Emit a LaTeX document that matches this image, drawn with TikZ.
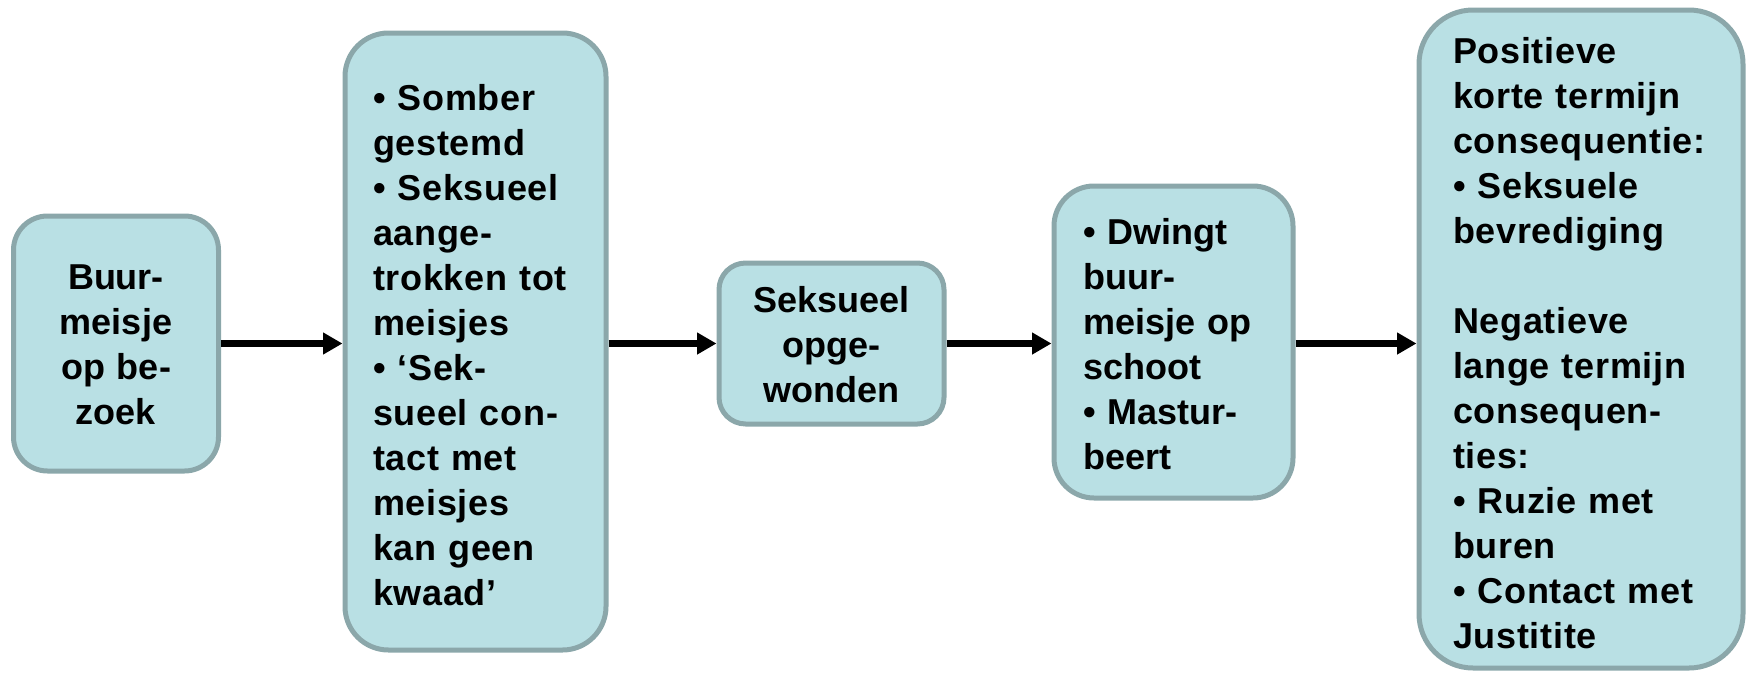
\documentclass[tikz,border=0pt]{standalone}
\usepackage{fontspec}
\setmainfont{Liberation Sans}
\usetikzlibrary{arrows.meta}
\definecolor{boxfill}{RGB}{185,224,228}
\definecolor{boxline}{RGB}{139,167,170}
\begin{document}
\begin{tikzpicture}[x=0.75pt,y=-0.75pt,
  stepbox/.style={draw=boxline,fill=boxfill,line width=3.75pt,rectangle,
    inner sep=0pt},
  steptext/.style={inner sep=0pt,
    font=\fontsize{27}{33.75}\selectfont\bfseries},
  widetext/.style={steptext,font=\fontsize{27}{33.75}\selectfont\bfseries\addfontfeature{LetterSpace=2.0}},
  flow/.style={line width=5pt,-{Triangle[length=14.5pt,width=15.5pt]}}]
\useasboundingbox (0,0) rectangle (1746,675);
\node[stepbox,minimum width=153.75pt,minimum height=191.25pt,rounded corners=25.5pt] (b1) at (116,343.5) {};
\node[steptext,text width=120pt,align=center] (t1) at (116,344.5)
  {Buur-\\meisje\\op be-\\zoek};
\node[stepbox,minimum width=195.75pt,minimum height=462.75pt,rounded corners=32.6pt] (b2) at (475.5,341.5) {};
\node[widetext,text width=153.75pt,align=left] (t2) at (475.5,345.5)
  {• Somber\\gestemd\\• Seksueel\\aange-\\trokken tot\\meisjes\\• ‘Sek-\\sueel con-\\tact met\\meisjes\\kan geen\\kwaad’};
\node[stepbox,minimum width=168.75pt,minimum height=120.75pt,rounded corners=20pt] (b3) at (831.5,343.5) {};
\node[steptext,text width=140pt,align=center] (t3) at (831.5,344.5)
  {Seksueel\\opge-\\wonden};
\node[stepbox,minimum width=179.25pt,minimum height=234pt,rounded corners=30pt] (b4) at (1173.5,342) {};
\node[steptext,text width=135.75pt,align=left] (t4) at (1173.5,344.5)
  {• Dwingt\\buur-\\meisje op\\schoot\\• Mastur-\\beert};
\node[stepbox,minimum width=243pt,minimum height=493.5pt,rounded corners=40.5pt] (b5) at (1581,339) {};
\node[widetext,text width=192pt,align=left] (t5) at (1581,343.5)
  {Positieve\\korte termijn\\consequentie:\\• Seksuele\\bevrediging\\\mbox{}\\Negatieve\\lange termijn\\consequen-\\ties:\\• Ruzie met\\buren\\• Contact met\\Justitite};
\draw[flow] (b1.east) -- (b1.east -| b2.west);
\draw[flow] (b1.east -| b2.east) -- (b1.east -| b3.west);
\draw[flow] (b1.east -| b3.east) -- (b1.east -| b4.west);
\draw[flow] (b1.east -| b4.east) -- (b1.east -| b5.west);
\end{tikzpicture}
\end{document}
